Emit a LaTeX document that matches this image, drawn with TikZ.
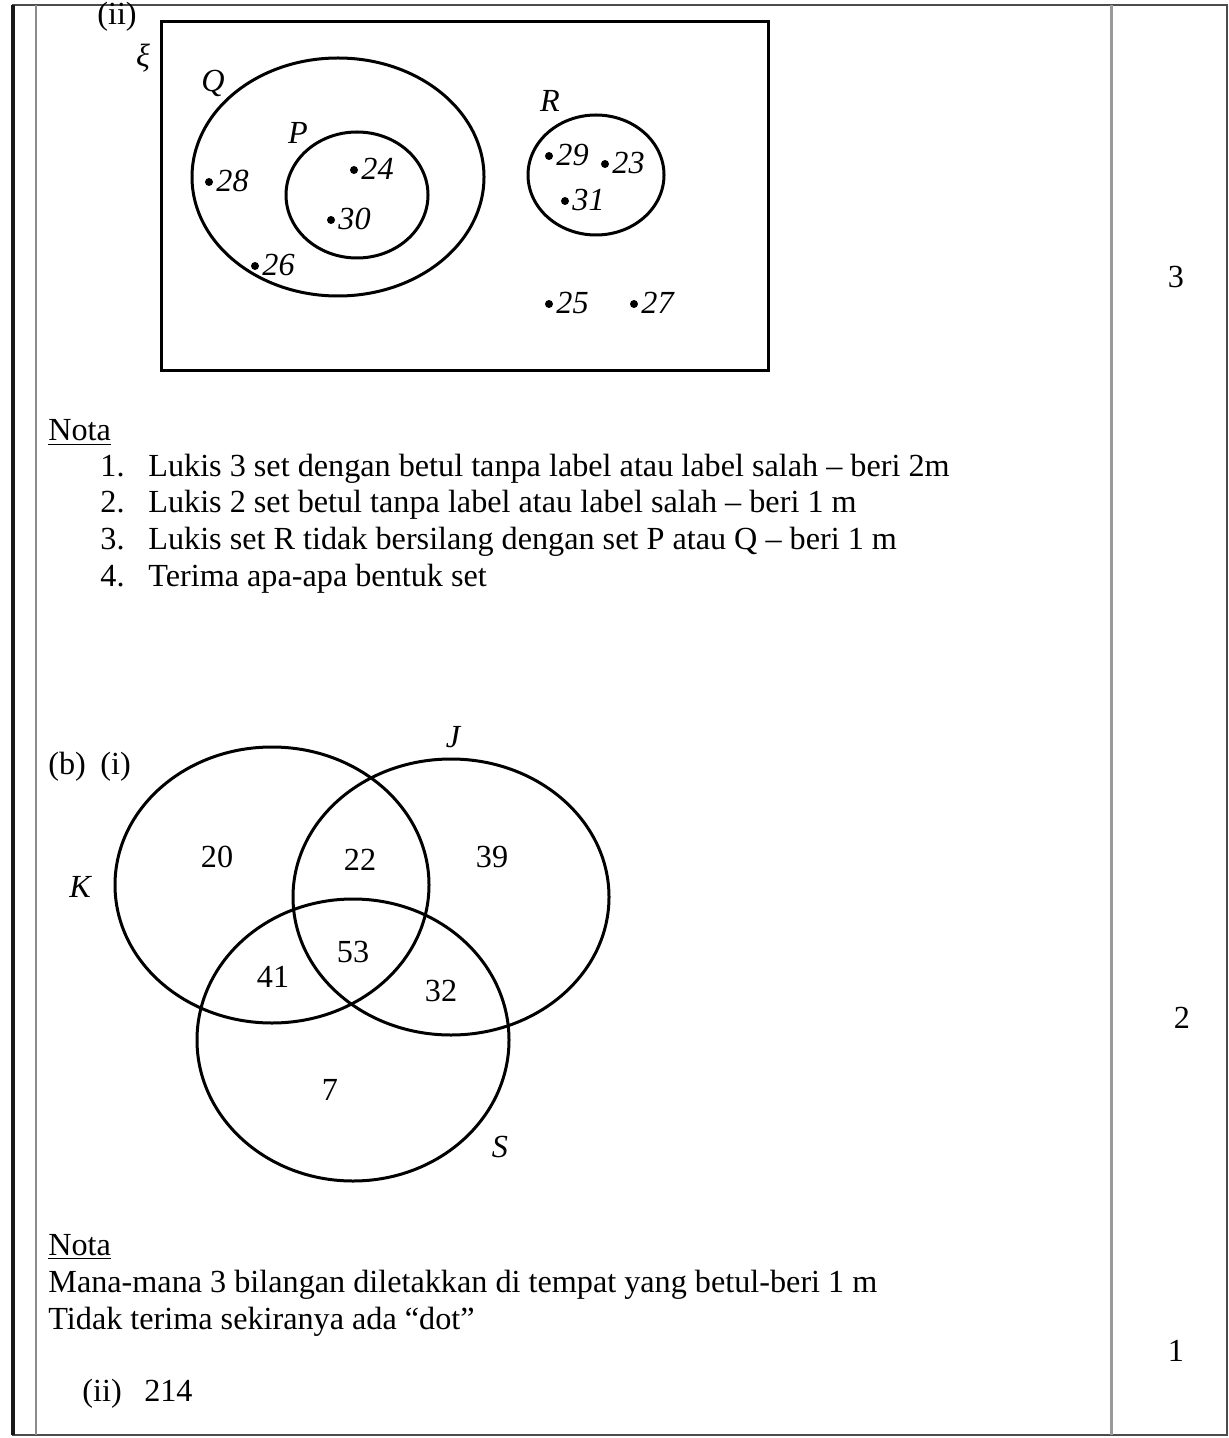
\documentclass[tikz,border=0pt]{standalone}
\usepackage{fontspec}
\setmainfont{Liberation Serif}
\begin{document}
\begin{tikzpicture}[x=0.5pt,y=-0.5pt,
  txt/.style={inner sep=0pt, font=\fontsize{16.1}{19}\selectfont},
  lab/.style={inner sep=0pt, font=\fontsize{16.1}{19}\selectfont\itshape},
  setline/.style={line width=1.5pt},
  dotm/.style={circle, fill=black, inner sep=0pt, minimum size=4pt},
]
\useasboundingbox (0,0) rectangle (1229,1438);
% table frame
\draw[line width=1.3pt, black!70] (13,5) rectangle (1227,1435);
\draw[line width=1.6pt, black!90] (13,5) -- (13,1435);
\draw[line width=1.2pt, black!45] (36,5) -- (36,1435);
\draw[line width=1.5pt, black!40] (1111,5) -- (1111,1435);

% part (a)(ii)
\node[txt] (ii) at (117,17) {(ii)};
\node[lab] (xi) at (143,58) {ξ};
\draw[setline] (161,22) rectangle (768,371);
\draw[setline] (338,177) ellipse [x radius=146, y radius=119];
\draw[setline] (357,195) ellipse [x radius=71, y radius=63];
\draw[setline] (596,175) ellipse [x radius=68, y radius=60];
\node[lab] (Q) at (213,83) {Q};
\node[lab] (P) at (298,133) {P};
\node[lab] (R) at (550,101) {R};

\foreach \n/\x/\y in {28/209/182, 24/354/170, 30/331/220, 26/255/266,
                      29/549/156, 23/605/164, 31/565/201, 25/549/304, 27/634/304}{
  \node[dotm] (d\n) at (\x,\y) {};
  \node[lab, anchor=base west] (t\n) at (\x+7,\y+10) {\n};
}

\node[txt] (m3) at (1176,277) {3};

% Nota 1
\node[txt, anchor=base west] (nota1) at (48,441) {\underline{Nota}};
\foreach \i/\y/\t in {1/476/{Lukis 3 set dengan betul tanpa label atau label salah – beri 2m},
                      2/512/{Lukis 2 set betul tanpa label atau label salah – beri 1 m},
                      3/549/{Lukis set R tidak bersilang dengan set P atau Q – beri 1 m},
                      4/586/{Terima apa-apa bentuk set}}{
  \node[txt, anchor=base east] (k\i) at (125,\y) {\i.};
  \node[txt, anchor=base west] (l\i) at (148,\y) {\t};
}

% part (b)(i)
\node[txt, anchor=base west] (bi) at (48,774) {(b)\hspace{0.45em}(i)};
\draw[setline] (272,885) ellipse [x radius=157, y radius=138];
\draw[setline] (451,897) ellipse [x radius=158, y radius=138];
\draw[setline] (353,1040) ellipse [x radius=156, y radius=141];
\node[lab] (J) at (453,737) {J};
\node[lab] (K) at (80,887) {K};
\node[lab] (S) at (500,1147) {S};
\node[txt] (v20) at (217,857) {20};
\node[txt] (v22) at (360,860) {22};
\node[txt] (v39) at (492,857) {39};
\node[txt] (v41) at (273,977) {41};
\node[txt] (v53) at (353,952) {53};
\node[txt] (v32) at (441,991) {32};
\node[txt] (v7) at (330,1090) {7};

\node[txt] (m2) at (1182,1018) {2};

% Nota 2
\node[txt, anchor=base west] (nota2) at (48,1255) {\underline{Nota}};
\node[txt, anchor=base west] (n2a) at (48,1292) {Mana-mana 3 bilangan diletakkan di tempat yang betul-beri 1 m};
\node[txt, anchor=base west] (n2b) at (48,1329) {Tidak terima sekiranya ada “dot”};

\node[txt] (m1) at (1176,1351) {1};
\node[txt, anchor=base west] (bii) at (82,1401) {(ii)\hspace{0.7em}214};
\end{tikzpicture}
\end{document}
